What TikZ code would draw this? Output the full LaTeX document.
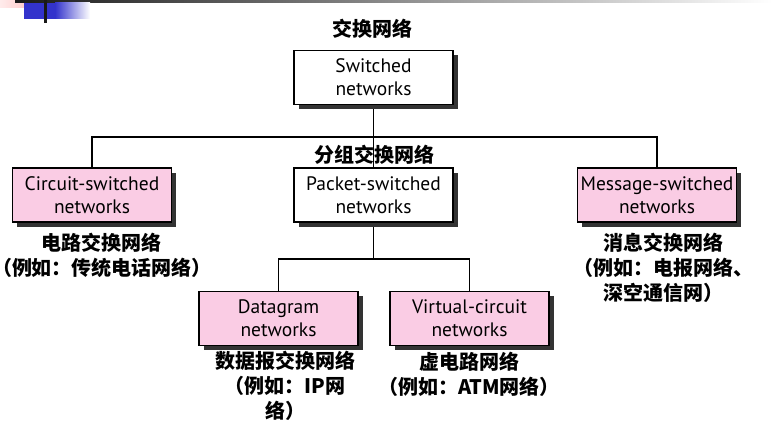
\documentclass[tikz,border=0pt]{standalone}
\usepackage{fontspec}
\setmainfont{PT Sans}
\newfontfamily\cjk{Noto Sans CJK SC}
\usetikzlibrary{shadows,backgrounds}
\definecolor{boxpink}{RGB}{250,204,228}
\definecolor{bannerblue}{RGB}{51,51,204}
\definecolor{bannerpink}{RGB}{255,190,190}
\begin{document}
\begin{tikzpicture}[x=1pt,y=-1pt,
  netbox/.style={draw=black, line width=1.2pt, minimum width=159pt,
    minimum height=54pt, align=center, inner sep=0pt,
    font=\fontsize{19.5}{23}\selectfont,
    drop shadow={shadow xshift=4.5pt, shadow yshift=-4.5pt,
      fill=black!80, opacity=1}},
  leafbox/.style={netbox, fill=boxpink},
  plainbox/.style={netbox, fill=white},
  cnlabel/.style={font=\cjk\bfseries\fontsize{20}{25}\selectfont,
    align=center, inner sep=0pt},
  wire/.style={draw=black, line width=1.6pt}]
\useasboundingbox (0,0) rectangle (772,436);

% slide banner in the top-left corner
\shade[left color=bannerpink!30, right color=bannerpink] (0,0) rectangle (38,7.5);
\shade[left color=black!90, right color=white] (15,0) rectangle (772,3);
\fill[bannerblue] (24,3) rectangle (55,19);
\shade[left color=bannerblue, right color=white] (55,3) rectangle (90,19);
\fill[black!90] (44,0) rectangle (47,23);

% tree of network types
\node[plainbox] (sw) at (373.5,77.5) {Switched\\networks};
\node[leafbox]  (cs) at (92,195)     {Circuit-switched\\networks};
\node[plainbox] (ps) at (373.5,195)  {Packet-switched\\networks};
\node[leafbox]  (ms) at (657,195)    {Message-switched\\networks};
\node[leafbox]  (dg) at (278.5,318.5) {Datagram\\networks};
\node[leafbox]  (vc) at (469.5,318.5) {Virtual-circuit\\networks};

\coordinate (bus1) at (0,137);
\coordinate (bus2) at (0,259);

\begin{pgfonlayer}{background}
  \draw[wire] (sw.south) -- (ps.north);
  \draw[wire] (cs.north) |- (ms.north |- bus1) -- (ms.north);
  \draw[wire] (ps.south) -- (ps.south |- bus2);
  \draw[wire] (dg.north) |- (vc.north |- bus2) -- (vc.north);
\end{pgfonlayer}

% Chinese captions
\node[cnlabel] (t0) at (372,29) {交换网络};
\node[cnlabel] (t1) at (374,155) {分组交换网络};
\node[cnlabel] (t2) at (102,255.5) {电路交换网络\\（例如：传统电话网络）};
\node[cnlabel] (t3) at (663,267.5) {消息交换网络\\（例如：电报网络、\\深空通信网）};
\node[cnlabel] (t4) at (285,386) {数据报交换网络\\（例如：IP网\\络）};
\node[cnlabel] (t5) at (469,374.5) {虚电路网络\\（例如：ATM网络）};
\end{tikzpicture}
\end{document}
